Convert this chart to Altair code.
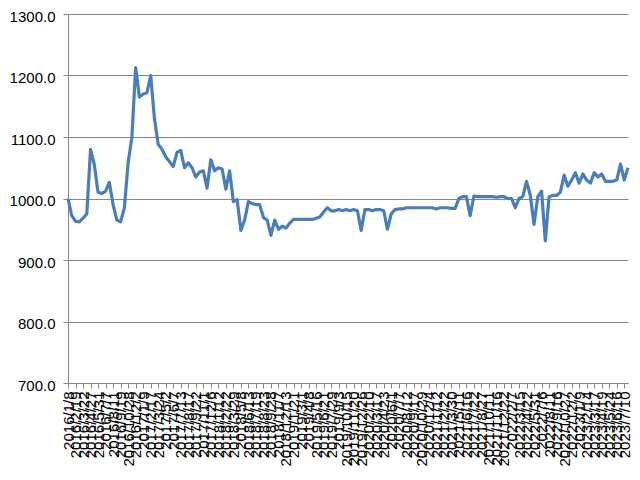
import altair as alt
import pandas as pd

# Series values, one per category step
values = [
    1000, 972, 963, 962, 968, 975, 1080, 1055, 1010, 1008,
    1012, 1026, 990, 965, 962, 985, 1058, 1100, 1213, 1165,
    1170, 1172, 1200, 1130, 1088, 1080, 1068, 1060, 1052, 1075,
    1078, 1050, 1058, 1050, 1035, 1043, 1045, 1017, 1063, 1045,
    1050, 1048, 1015, 1045, 995, 998, 948, 965, 995, 992,
    990, 990, 969, 965, 940, 965, 950, 955, 952, 960,
    966, 966, 966, 966, 966, 966, 968, 970, 978, 985,
    980, 980, 982, 980, 982, 980, 982, 980, 948, 982,
    982, 980, 982, 982, 980, 950, 975, 982, 983, 983,
    985, 985, 985, 985, 985, 985, 985, 985, 983, 985,
    985, 985, 984, 984, 1000, 1003, 1003, 972, 1004, 1003,
    1003, 1003, 1003, 1003, 1002, 1003, 1003, 1000, 1000, 985,
    1000, 1003, 1028, 1005, 958, 1003, 1012, 931, 1003, 1005,
    1005, 1010, 1038, 1020, 1030, 1042, 1025, 1040, 1030, 1025,
    1042, 1035, 1040, 1028, 1028, 1028, 1030, 1056, 1030, 1050,
]

# Category tick labels (one every two steps)
tick_labels = [
    "2016/1/8", "2016/2/19", "2016/3/22", "2016/4/27", "2016/5/31",
    "2016/7/7", "2016/8/11", "2016/9/19", "2016/10/28", "2016/12/2",
    "2017/1/9", "2017/2/17", "2017/3/24", "2017/5/2", "2017/6/7",
    "2017/7/13", "2017/8/17", "2017/9/22", "2017/11/1", "2017/12/6",
    "2018/1/12", "2018/2/22", "2018/3/29", "2018/5/8", "2018/6/13",
    "2018/7/19", "2018/8/23", "2018/9/28", "2018/11/7", "2018/12/13",
    "2019/1/21", "2019/3/1", "2019/4/8", "2019/5/16", "2019/6/21",
    "2019/7/29", "2019/9/3", "2019/10/15", "2019/11/20", "2019/12/26",
    "2020/2/10", "2020/3/17", "2020/4/23", "2020/6/1", "2020/7/7",
    "2020/8/12", "2020/9/17", "2020/10/29", "2020/12/4", "2021/1/12",
    "2021/2/22", "2021/3/30", "2021/5/11", "2021/6/16", "2021/7/22",
    "2021/8/27", "2021/10/11", "2021/11/16", "2021/12/22", "2022/2/7",
    "2022/3/15", "2022/4/22", "2022/5/31", "2022/7/6", "2022/8/11",
    "2022/9/16", "2022/10/27", "2022/12/2", "2023/1/9", "2023/2/14",
    "2023/3/17", "2023/4/19", "2023/5/24", "2023/6/16", "2023/7/10",
]

y_ticks = [700, 800, 900, 1000, 1100, 1200, 1300]

df = pd.DataFrame({"idx": list(range(len(values))), "value": values})
tick_vals = [2 * k for k in range(len(tick_labels))]
label_array = "[" + ",".join('"%s"' % s for s in tick_labels) + "]"

line = alt.Chart(df).mark_line(
    color="#4a7ebb", strokeWidth=3.2, strokeJoin="round"
).encode(
    x=alt.X(
        "idx:Q",
        scale=alt.Scale(domain=[0, len(values) - 1], nice=False, zero=False),
        axis=alt.Axis(
            values=tick_vals,
            labelExpr=label_array + "[round(datum.value / 2)]",
            labelAngle=-90,
            labelAlign="right",
            labelBaseline="middle",
            labelOverlap=False,
            labelPadding=3,
            tickSize=5,
            grid=False,
            title=None,
        ),
    ),
    y=alt.Y(
        "value:Q",
        scale=alt.Scale(domain=[700, 1300], nice=False, zero=False),
        axis=alt.Axis(
            values=y_ticks,
            format=".1f",
            tickSize=5,
            labelPadding=8,
            labelOffset=2,
            grid=True,
            title=None,
        ),
    ),
)

chart = line.properties(
    width=560,
    height=369,
    autosize=alt.AutoSizeParams(type="none"),
    padding={"left": 60, "top": 6, "right": 4, "bottom": 90},
    background="white",
).configure_view(
    stroke=None
).configure_axis(
    domainColor="#868686",
    tickColor="#868686",
    gridColor="#868686",
    labelColor="#000000",
    labelFont="Liberation Sans",
    labelFontSize=15,
    domainWidth=1,
    tickWidth=1,
    gridWidth=1,
)

chart.save("out.html", embed_options={"renderer": "svg", "actions": False})
